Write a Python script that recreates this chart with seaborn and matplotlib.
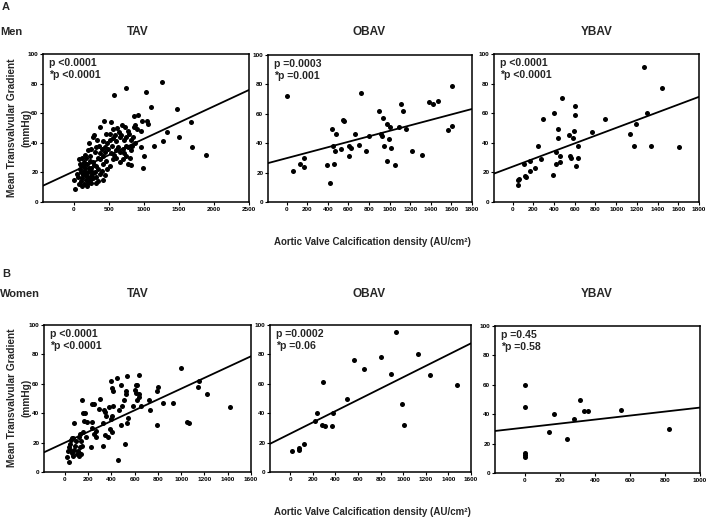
import matplotlib
matplotlib.use("Agg")
import matplotlib.pyplot as plt
import seaborn as sns
import pandas as pd

# ---------------- data ----------------
men_tav_x = [1253, 738, 577, 1031, 1102, 1475, 1678, 1504, 1329, 1267, 1144, 1683, 1882, 1045, 1054, 974, 865, 993, 997, 957, 920, 870, 960,
             425, 525, 369, 690, 615, 733, 775, 856, 898, 560, 640,
             284, 270, 454, 515, 582, 652, 790, 851, 813, 709, 605, 511, 416, 331, 217, 480, 560, 750, 680,
             355, 440, 548, 634, 700, 771, 809, 709, 605, 525, 444, 369, 298, 208, 156, 236, 80, 400, 490, 580, 660, 740, 830, 880, 320, 250, 180, 120,
             369, 463, 558, 652, 771, 818, 274, 189, 109, 321, 416, 511, 251, 600, 700, 740, 420, 340, 230, 150, 90, 800,
             156, 85, 203, 298, 369, 440, 132, 47, 227, 321, 416, 170, 109, 251, 321, 189, 0, 14, 76, 100, 140, 180, 210, 260, 290, 350, 400, 470,
             60, 120, 150, 200, 230, 280, 350, 130, 160, 240, 190, 110]
men_tav_y = [81, 77, 72, 74, 64, 63, 54, 44, 47, 41, 38, 37, 32, 55, 53, 55, 58, 23, 31, 37, 59, 52, 48,
             55, 54, 51, 52, 50, 51, 48, 51, 49, 49, 47,
             45, 44, 46, 46, 45, 44, 46, 44, 42, 42, 41, 42, 41, 42, 40, 40, 43, 44, 45,
             38, 37, 38, 37, 36, 37, 35, 33, 35, 33, 34, 33, 34, 35, 32, 31, 29, 36, 36, 32, 34, 38, 38, 40, 37, 36, 30, 30,
             29, 28, 29, 27, 26, 25, 27, 26, 25, 24, 26, 24, 23, 30, 29, 31, 31, 30, 28, 27, 26, 30,
             23, 22, 20, 20, 19, 18, 18, 19, 17, 17, 15, 15, 14, 13, 13, 11, 15, 9, 12, 20, 21, 18, 23, 19, 25, 22, 21, 22,
             17, 16, 12, 13, 15, 16, 14, 24, 20, 21, 17, 11]

men_obav_x = [0, 65, 126, 171, 171, 391, 423, 446, 478, 452, 475, 465, 546, 562, 533, 604, 630, 604, 662, 701, 724, 772, 802,
              893, 912, 926, 941, 950, 973, 976, 1005, 996, 1015, 1050, 1089, 1115, 1131, 1157, 1222, 1315, 1387, 1425, 1474, 1568, 1603, 1603]
men_obav_y = [72, 21, 26, 30, 24, 25, 13, 50, 46, 38, 35, 26, 56, 55, 36, 38, 37, 31, 46, 39, 74, 35, 45,
              62, 46, 45, 57, 38, 53, 28, 51, 43, 37, 25, 51, 67, 62, 50, 35, 32, 68, 67, 69, 49, 79, 52]

men_ybav_x = [48, 58, 51, 113, 122, 129, 167, 167, 219, 248, 276, 289, 389, 395, 421, 418, 434, 434, 453, 453, 476, 540, 553,
              563, 585, 588, 598, 598, 608, 630, 636, 765, 894, 1138, 1177, 1196, 1266, 1295, 1334, 1440, 1604]
men_ybav_y = [15, 15.5, 11.5, 26, 17.5, 17, 28, 21, 23, 38, 29, 56, 18, 60, 34, 26, 49, 43, 31, 27, 70, 45, 31,
              30, 43, 48, 65, 59, 24, 30, 38, 47, 56, 46, 38, 53, 91, 60, 38, 77, 37.5]

women_tav_x = [1000, 843, 930, 790, 1053, 1070, 1143, 1151, 1224, 1420, 801, 795, 720, 728, 655, 641, 608, 622, 599, 613, 633, 641, 622, 585,
               532, 529, 524, 507, 482, 445, 487, 465, 454, 515, 532, 543, 479, 398, 406, 412, 417, 375, 403, 392, 389, 403, 367, 347,
               328, 353, 342, 333, 291, 300, 325, 235, 252, 269, 266, 235, 230, 249, 193, 221, 151, 157, 174, 160, 157, 132, 76, 62,
               56, 73, 45, 34, 25, 17, 34, 81, 109, 101, 123, 132, 151, 137, 90, 62, 118, 185, 118, 45, 73, 137, 95]
women_tav_y = [71, 47, 47, 32, 34, 33, 58, 62, 53, 44, 58, 55, 49, 42, 45, 66, 59, 59, 56, 54, 53, 51, 49, 45,
               65, 55, 53, 49, 59, 64, 45, 42, 8, 19, 33, 37, 32, 62, 57, 55, 45, 44, 38, 36, 29, 27, 24, 25,
               33, 38, 41, 42, 43, 50, 18, 30, 26, 24, 28, 34, 46, 46, 34, 17, 49, 40, 40, 35, 27, 26, 33, 23,
               22, 23, 19, 17, 14, 10, 7, 15, 14, 12, 13, 17, 18, 21, 18, 13, 11, 24, 24, 15, 11, 12, 21]

women_obav_x = [15, 74, 80, 124, 219, 234, 287, 279, 308, 376, 367, 504, 566, 649, 800, 889, 939, 993, 1004, 1135, 1239, 1473]
women_obav_y = [14, 15, 16, 19, 35, 40, 61, 32, 31, 40, 31, 50, 76, 70, 78, 67, 95, 46, 32, 80, 66, 59]

women_ybav_x = [0, 0, 0, 0, 0, 138, 167, 240, 283, 313, 340, 360, 548, 823]
women_ybav_y = [60, 45, 13.5, 12, 11, 28, 40, 23, 37, 50, 42, 42, 43, 30]

# linear-regression lines (intercept, slope)
men_fit = [(20.7, 0.0220), (29.8, 0.0186), (23.9, 0.0262)]
women_fit = [(20.0, 0.0367), (26.1, 0.0384), (30.9, 0.0136)]

panel_titles = ["TAV", "OBAV", "YBAV"]
p_texts = [["p <0.0001\n*p <0.0001", "p =0.0003\n*p =0.001", "p <0.0001\n*p <0.0001"],
           ["p <0.0001\n*p <0.0001", "p =0.0002\n*p =0.06", "p =0.45\n*p =0.58"]]
xlims = [[(-440, 2500), (-180, 1800), (-180, 1800)],
         [(-180, 1600), (-180, 1600), (-170, 1000)]]
xticks = [[[0, 500, 1000, 1500, 2000, 2500], list(range(0, 1801, 200)), list(range(0, 1801, 200))],
          [list(range(0, 1601, 200)), list(range(0, 1601, 200)), list(range(0, 1001, 200))]]
yticks = [0, 20, 40, 60, 80, 100]
xlabel = "Aortic Valve Calcification density (AU/cm²)"
ylabel = "Mean Transvalvular Gradient"

data = [[(men_tav_x, men_tav_y), (men_obav_x, men_obav_y), (men_ybav_x, men_ybav_y)],
        [(women_tav_x, women_tav_y), (women_obav_x, women_obav_y), (women_ybav_x, women_ybav_y)]]
fits = [men_fit, women_fit]

# ---------------- style ----------------
sns.set_theme(style="ticks")
plt.rcParams['font.family'] = ['Liberation Sans', 'DejaVu Sans']
plt.rcParams['font.weight'] = 'bold'

W, H = 709, 519
fig = plt.figure(figsize=(W / 100, H / 100), dpi=100)

boxes = [[(43, 249, 54, 202), (268, 472, 55, 202), (494, 699, 54, 202)],
         [(44, 251, 325, 472), (270, 471, 325, 472), (495, 700, 326, 473)]]

for r in range(2):
    for c in range(3):
        l, rr, t, b = boxes[r][c]
        ax = fig.add_axes([l / W, 1 - b / H, (rr - l) / W, (b - t) / H])
        xs, ys = data[r][c]
        df = pd.DataFrame({"x": xs, "y": ys})
        sns.scatterplot(data=df, x="x", y="y", ax=ax, s=13, color="black", linewidth=0, zorder=3)
        x0, x1 = xlims[r][c]
        b0, m = fits[r][c]
        line_df = pd.DataFrame({"x": [x0, x1], "y": [b0 + m * x0, b0 + m * x1]})
        sns.lineplot(data=line_df, x="x", y="y", ax=ax, color="black", lw=1.3, zorder=2)
        ax.set_xlim(x0, x1)
        ax.set_ylim(0, 100)
        ax.set_xticks(xticks[r][c])
        ax.set_yticks(yticks)
        ax.set_xlabel("")
        ax.set_ylabel("")
        for s in ax.spines.values():
            s.set_visible(True)
            s.set_linewidth(1.1)
            s.set_color("black")
        ax.tick_params(direction="out", length=2.2, width=0.8, labelsize=4.6, pad=1.2, colors="black")
        for lab in ax.get_xticklabels() + ax.get_yticklabels():
            lab.set_fontweight("bold")
        ax.text(0.03, 0.97, p_texts[r][c], transform=ax.transAxes, ha="left", va="top",
                fontsize=7.6, fontweight="bold", linespacing=1.25)

# titles and labels
title_x = [[138, 369, 597], [138, 369, 597]]
title_y = [32, 294]
for r in range(2):
    for c in range(3):
        fig.text(title_x[r][c] / W, 1 - title_y[r] / H, panel_titles[c], ha="center", va="center",
                 fontsize=8.5, fontweight="bold")

fig.text(2 / W, 1 - 7 / H, "A", ha="left", va="center", fontsize=8, fontweight="bold")
fig.text(0 / W, 1 - 32 / H, "Men", ha="left", va="center", fontsize=8, fontweight="bold")
fig.text(2 / W, 1 - 274 / H, "B", ha="left", va="center", fontsize=8, fontweight="bold")
fig.text(0 / W, 1 - 294 / H, "Women", ha="left", va="center", fontsize=8, fontweight="bold")

for yc, xl in [(128, 242), (398, 512)]:
    fig.text(12 / W, 1 - yc / H, ylabel, rotation=90, ha="center", va="center", fontsize=7.3, fontweight="bold")
    fig.text(26 / W, 1 - yc / H, "(mmHg)", rotation=90, ha="center", va="center", fontsize=7.3, fontweight="bold")
    fig.text(372 / W, 1 - xl / H, xlabel, ha="center", va="center", fontsize=7, fontweight="bold")

fig.savefig("out.png", dpi=100, facecolor="white")
